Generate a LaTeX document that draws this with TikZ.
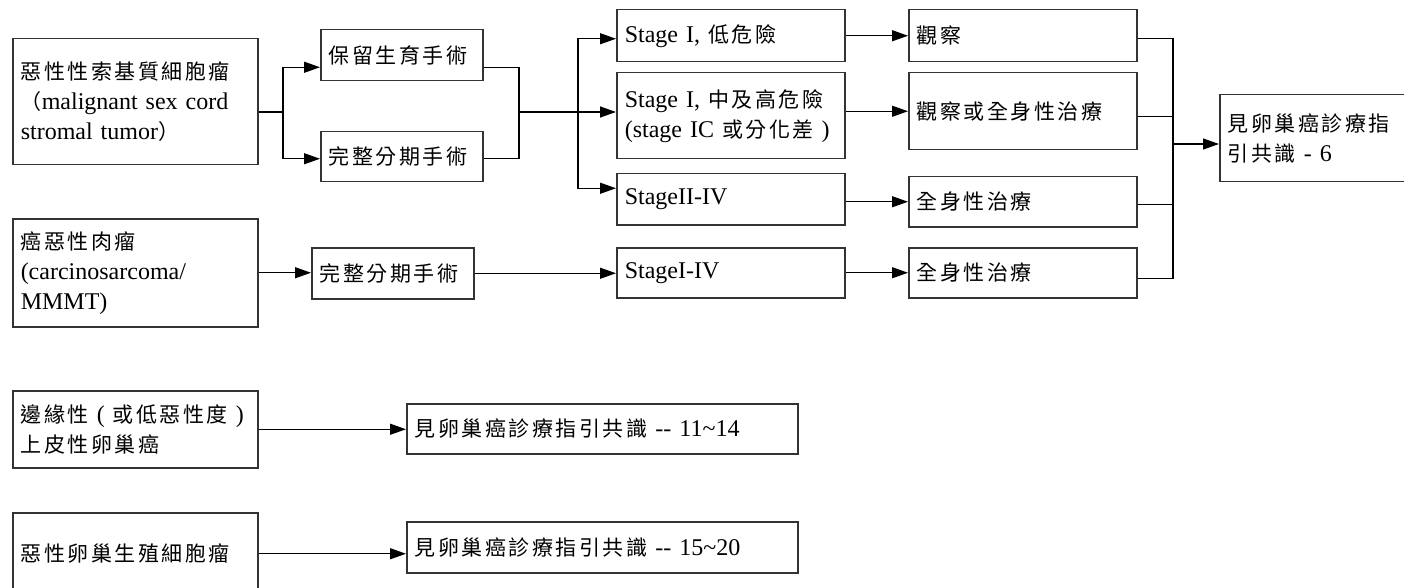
\documentclass[tikz,border=0pt]{standalone}
\usepackage{fontspec}
\setmainfont{Liberation Serif}
\newfontfamily\cjk[LetterSpace=12]{Noto Sans CJK TC}
\newcommand\zh[1]{{\cjk\fontsize{21}{30}\selectfont #1}}
\usetikzlibrary{arrows.meta}

\begin{document}
\begin{tikzpicture}[x=1pt,y=-1pt,
    box/.style={draw=black!80,line width=1.5pt,anchor=north west,align=left,
      inner xsep=8pt,inner ysep=0pt,font=\fontsize{24}{30}\selectfont},
    wire/.style={line width=1.3pt},
    arr/.style={wire,-{Triangle[length=16pt,width=11pt]}}]
  \useasboundingbox (0,0) rectangle (1404,588);
  \clip (0,0) rectangle (1404,588);
  %% left column
  \node[box,text width=229pt,minimum height=126pt] (sexcord) at (12,38)
    {\zh{惡性性索基質細胞瘤}\\\zh{（}malignant sex cord\\stromal tumor\zh{）}};
  \node[box,text width=229pt,minimum height=108pt] (carcino) at (12,218)
    {\zh{癌惡性肉瘤}\\(carcinosarcoma/\\MMMT)};
  \node[box,text width=229pt,minimum height=77pt] (borderline) at (12,390)
    {\zh{邊緣性} ( \zh{或低惡性度} )\\\zh{上皮性卵巢癌}};
  \node[box,text width=229pt,minimum height=82pt] (germcell) at (12,512)
    {\zh{惡性卵巢生殖細胞瘤}};
  %% surgery
  \node[box,text width=146pt,minimum height=51pt] (keep) at (320,29) {\zh{保留生育手術}};
  \node[box,text width=146pt,minimum height=50pt] (staging) at (320,131) {\zh{完整分期手術}};
  \node[box,text width=146pt,minimum height=51pt] (stagingB) at (311,247) {\zh{完整分期手術}};
  %% stages
  \node[box,text width=212pt,minimum height=52pt] (lowrisk) at (616,9) {Stage I, \zh{低危險}};
  \node[box,text width=212pt,minimum height=86pt] (highrisk) at (616,72)
    {Stage I, \zh{中及高危險}\\(stage IC \zh{或分化差} )};
  \node[box,text width=212pt,minimum height=51pt] (advanced) at (616,173) {StageII-IV};
  \node[box,text width=212pt,minimum height=50pt] (allstage) at (616,247) {StageI-IV};
  %% treatment
  \node[box,text width=212pt,minimum height=52pt] (observe) at (908,9) {\zh{觀察}};
  \node[box,text width=212pt,minimum height=77pt] (observesys) at (908,72) {\zh{觀察或全身性治療}};
  \node[box,text width=212pt,minimum height=50pt] (systemic) at (908,176) {\zh{全身性治療}};
  \node[box,text width=212pt,minimum height=50pt] (systemicB) at (908,247) {\zh{全身性治療}};
  %% guidelines
  \node[box,text width=175pt,minimum height=87pt] (guide) at (1219,94)
    {\zh{見卵巢癌診療指}\\\zh{引共識} - 6};
  \node[box,text width=375pt,minimum height=50pt] (guideB) at (406,403)
    {\zh{見卵巢癌診療指引共識} -{}- 11\textasciitilde14};
  \node[box,text width=375pt,minimum height=51pt] (guideC) at (406,521)
    {\zh{見卵巢癌診療指引共識} -{}- 15\textasciitilde20};
  % junctions
  \coordinate (split) at (283,112);
  \coordinate (merge) at (519,112);
  \coordinate (fork) at (578,112);
  \coordinate (gather) at (1173,144);
  % connectors
  \draw[wire] (sexcord.east |- split) -- (split);
  \draw[arr] (split) |- ([yshift=-12pt]keep.west);
  \draw[arr] (split) |- ([yshift=-2pt]staging.west);
  \draw[wire] ([yshift=-12pt]keep.east) -| (merge);
  \draw[wire] ([yshift=-2pt]staging.east) -| (merge);
  \draw[wire] (merge) -- (fork);
  \draw[arr] (fork) -- (highrisk.west |- fork);
  \draw[arr] (fork) |- ([yshift=-3pt]lowrisk.west);
  \draw[arr] (fork) |- ([yshift=11pt]advanced.west);
  \draw[arr] (carcino.east) -- (stagingB.west |- carcino.east);
  \draw[arr] (stagingB.east) -- (allstage.west |- stagingB.east);
  \draw[arr] (lowrisk) -- (observe);
  \draw[arr] (highrisk.east |- observesys) -- (observesys);
  \draw[arr] (advanced.east |- systemic) -- (systemic);
  \draw[arr] (allstage) -- (systemicB);
  \draw[wire] ([yshift=-3pt]observe.east) -| (gather) |- ([yshift=-6pt]systemicB.east);
  \draw[wire] ([yshift=-5pt]observesys.east) -- ([yshift=-5pt]observesys.east -| gather);
  \draw[wire] ([yshift=-3pt]systemic.east) -- ([yshift=-3pt]systemic.east -| gather);
  \draw[arr] (gather) -- (guide.west |- gather);
  \draw[arr] (borderline.east) -- (guideB.west |- borderline.east);
  \draw[arr] (germcell.east) -- (guideC.west |- germcell.east);
\end{tikzpicture}
\end{document}
